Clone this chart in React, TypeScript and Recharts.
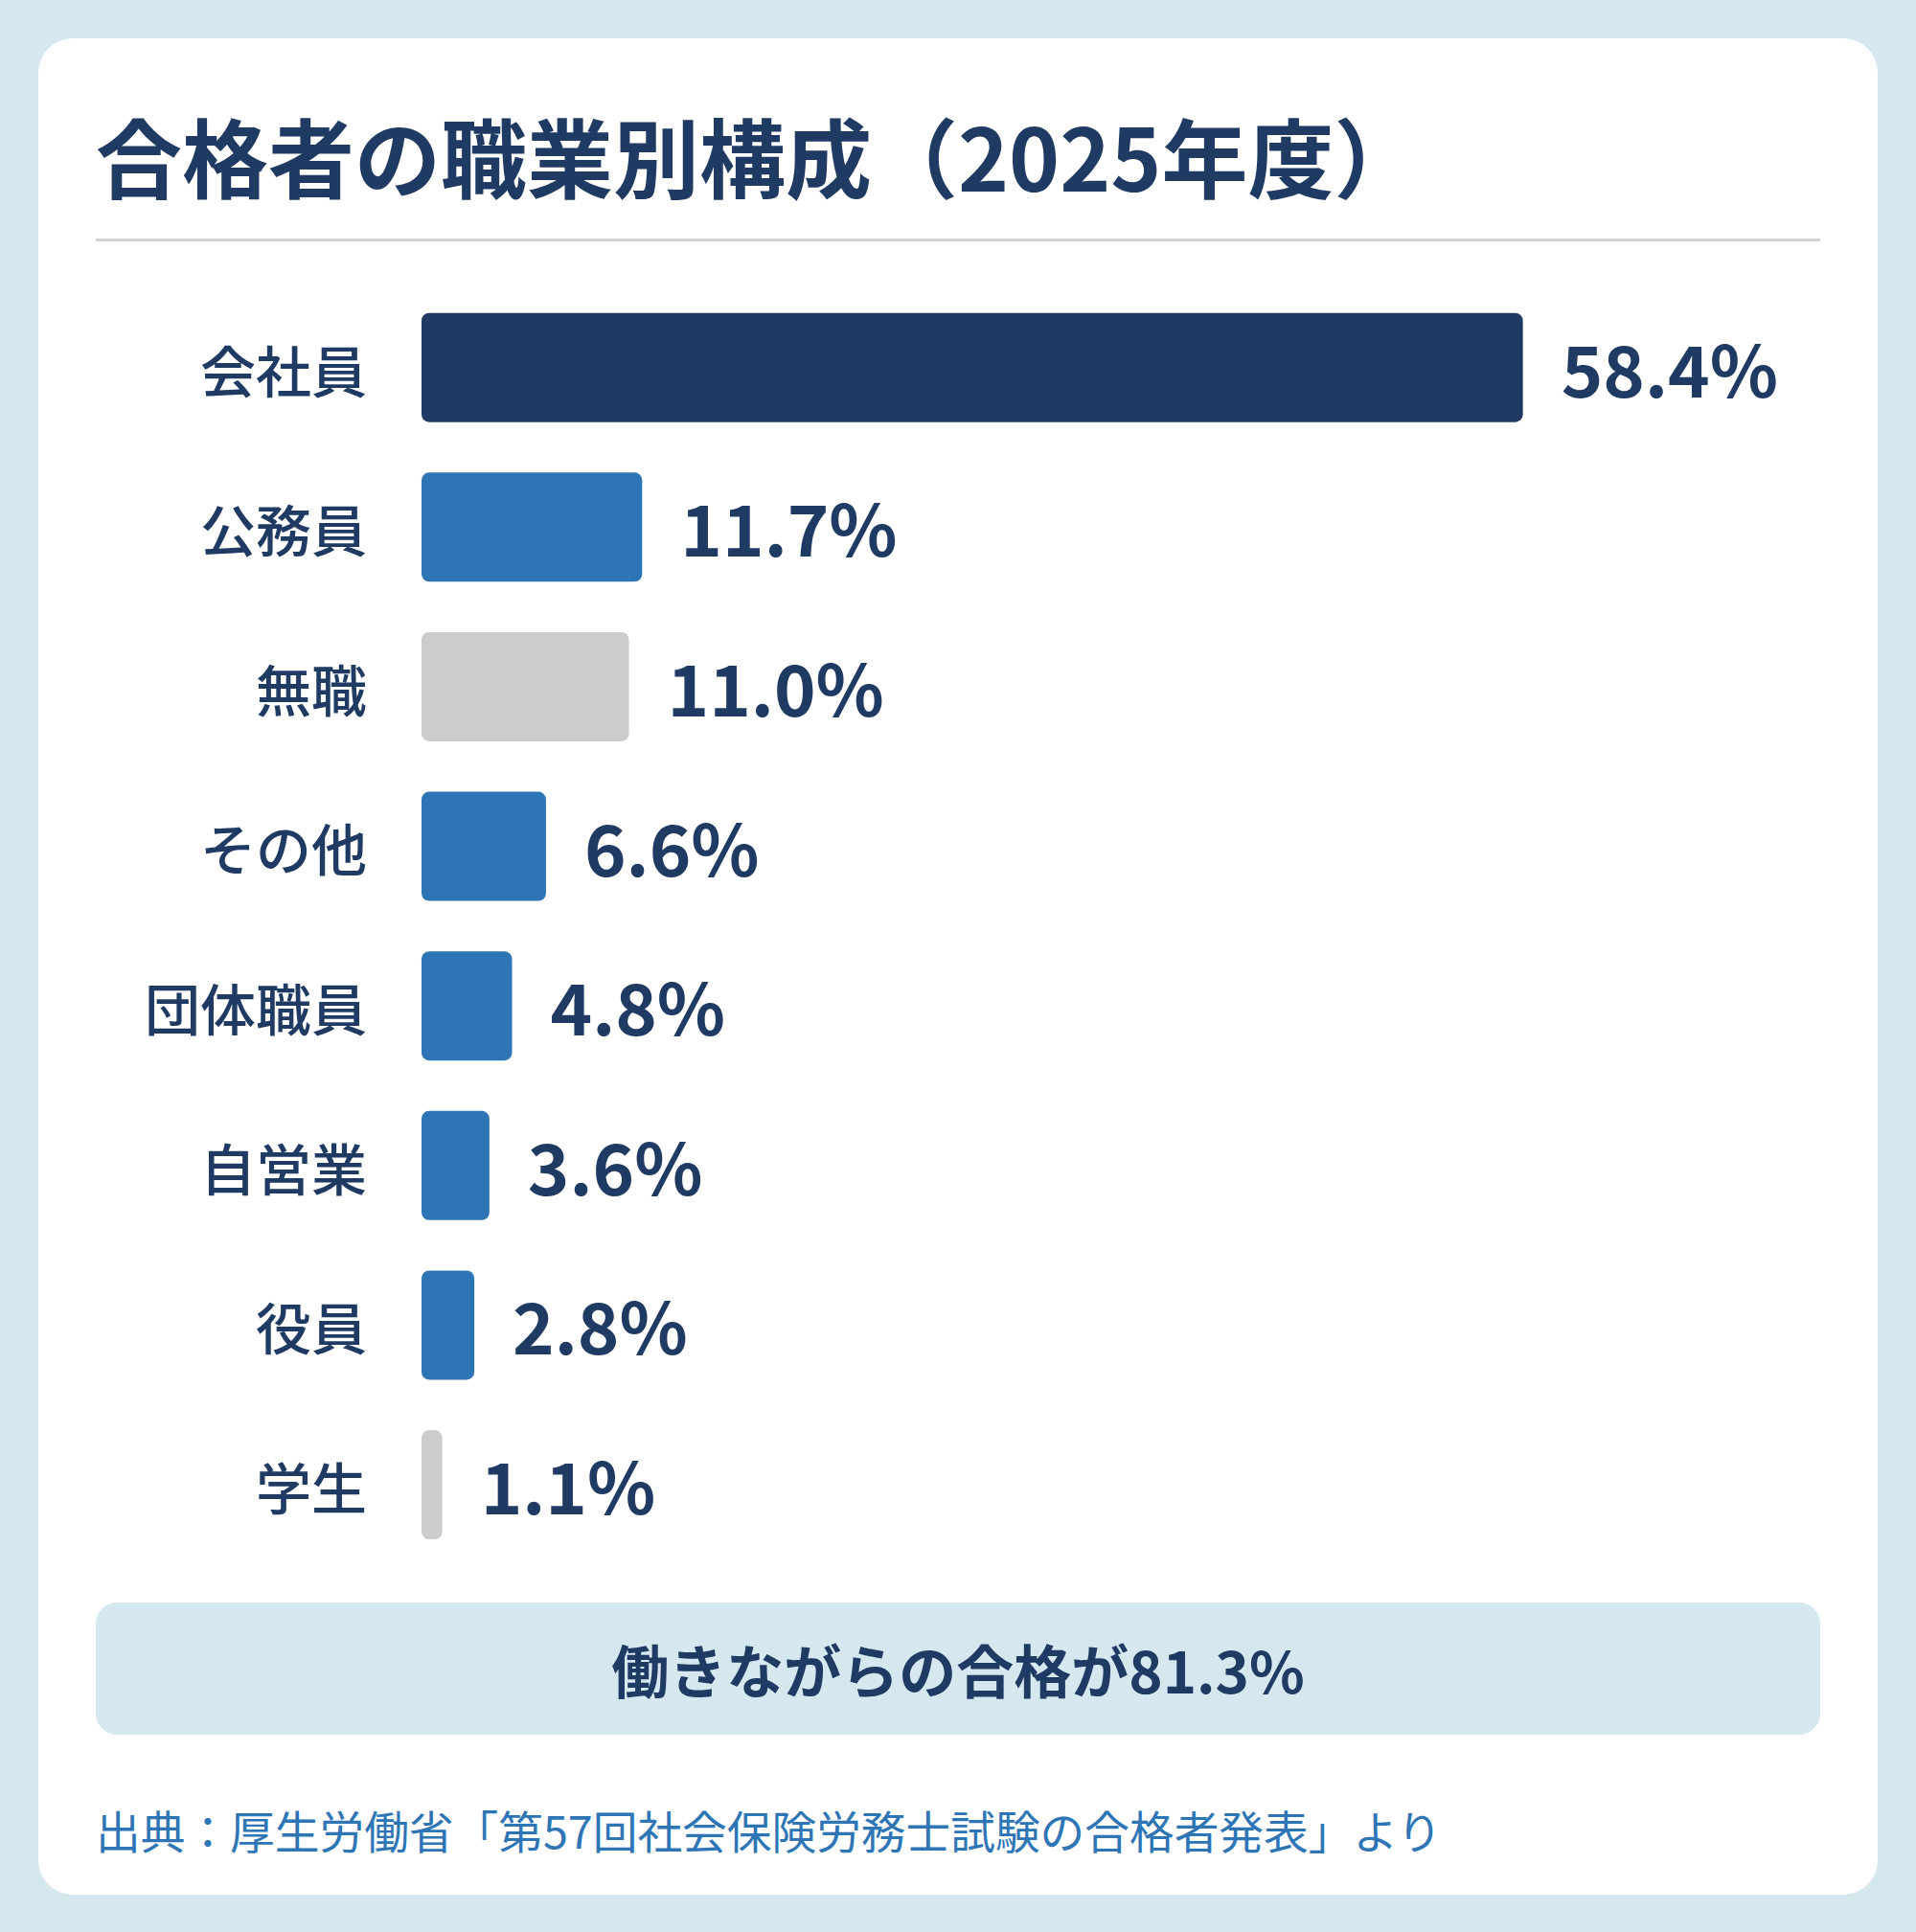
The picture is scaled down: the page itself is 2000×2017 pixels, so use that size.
import React from "react";
import { BarChart, Bar, XAxis, YAxis, Cell, LabelList } from "recharts";

const categories = ["会社員", "公務員", "無職", "その他", "団体職員", "自営業", "役員", "学生"];
const shares = [58.4, 11.7, 11.0, 6.6, 4.8, 3.6, 2.8, 1.1];
const barColors = ["#213a63", "#2e75b6", "#cccccc", "#2e75b6", "#2e75b6", "#2e75b6", "#2e75b6", "#cccccc"];

const titleText = "合格者の職業別構成（2025年度）";
const summaryText = "働きながらの合格が81.3%";
const sourceText = "出典：厚生労働省「第57回社会保険労務士試験の合格者発表」より";

const data = categories.map((name, i) => ({ name, value: shares[i] }));

const FONT = '"Noto Sans CJK JP", "Noto Sans", sans-serif';
const NAVY = "#1f3a63";

const ValueLabel = (props: any) => {
  const { x, y, width, height, value } = props;
  return (
    <text
      x={Number(x) + Number(width) + 40}
      y={Number(y) + Number(height) / 2}
      dy={31}
      textAnchor="start"
      fill={NAVY}
      fontSize={74}
      fontWeight={700}
      fontFamily={FONT}
    >
      {`${Number(value).toFixed(1)}%`}
    </text>
  );
};

export default function App() {
  return (
    <div
      style={{
        position: "absolute",
        left: 0,
        top: 0,
        width: 2000,
        height: 2017,
        background: "#d6e8ef",
        fontFamily: FONT,
        overflow: "hidden",
      }}
    >
      <div
        style={{
          position: "absolute",
          left: 40,
          top: 40,
          width: 1920,
          height: 1938,
          background: "#ffffff",
          borderRadius: 36,
        }}
      />
      <div
        style={{
          position: "absolute",
          left: 100,
          top: 116,
          fontSize: 90,
          lineHeight: 1,
          fontWeight: 700,
          color: NAVY,
          whiteSpace: "nowrap",
        }}
      >
        {titleText}
      </div>
      <div
        style={{
          position: "absolute",
          left: 100,
          top: 249,
          width: 1800,
          height: 3,
          background: "#d2d2d2",
        }}
      />
      <div style={{ position: "absolute", left: 0, top: 0 }}>
        <BarChart
          width={2000}
          height={1700}
          data={data}
          layout="vertical"
          margin={{ top: 300.7, right: 182, bottom: 66.3, left: 0 }}
        >
          <XAxis type="number" domain={[0, 70]} hide />
          <YAxis
            type="category"
            dataKey="name"
            width={440}
            axisLine={false}
            tickLine={false}
            tickSize={0}
            tickMargin={57}
            interval={0}
            tick={{ fill: NAVY, fontSize: 58, fontWeight: 500, fontFamily: FONT, dy: 5 }}
          />
          <Bar dataKey="value" barSize={114} radius={8} isAnimationActive={false}>
            {data.map((d, i) => (
              <Cell key={d.name} fill={barColors[i]} />
            ))}
            <LabelList dataKey="value" content={ValueLabel} />
          </Bar>
        </BarChart>
      </div>
      <div
        style={{
          position: "absolute",
          left: 100,
          top: 1673,
          width: 1800,
          height: 138,
          background: "#d5e8f0",
          borderRadius: 22,
          display: "flex",
          alignItems: "center",
          justifyContent: "center",
          fontSize: 60,
          fontWeight: 700,
          color: NAVY,
          lineHeight: 1,
        }}
      >
        {summaryText}
      </div>
      <div
        style={{
          position: "absolute",
          left: 100,
          top: 1887,
          fontSize: 46.7,
          lineHeight: 1,
          color: "#2e75b6",
          whiteSpace: "nowrap",
        }}
      >
        {sourceText}
      </div>
    </div>
  );
}
